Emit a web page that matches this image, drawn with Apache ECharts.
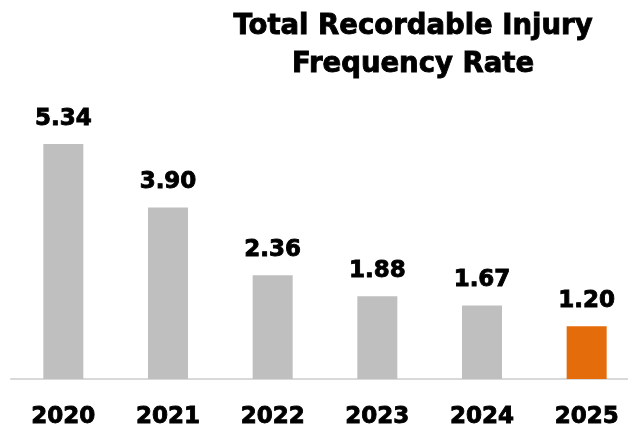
<!DOCTYPE html>
<html><head><meta charset="utf-8">
<script src="https://cdn.jsdelivr.net/npm/echarts@6/dist/echarts.min.js"></script>
<style>html,body{margin:0;padding:0;background:#fff}#c{width:628px;height:429px}</style>
</head><body><div id="c"></div>
<script>
const categories = ['2020','2021','2022','2023','2024','2025'];
const values = [5.34, 3.90, 2.36, 1.88, 1.67, 1.20];
const barColors = ['#BFBFBF','#BFBFBF','#BFBFBF','#BFBFBF','#BFBFBF','#E46C0A'];
const titleText = 'Total Recordable Injury\nFrequency Rate';
const FONT = 'DejaVu Sans';
const heavy = {fontFamily:FONT, fontWeight:'bold', color:'#000', textBorderColor:'#000', textBorderWidth:0.9};
const chart = echarts.init(document.getElementById('c'), null, {renderer:'canvas'});
chart.setOption({
  animation:false,
  title:{
    text:titleText, left:408, top:3, textAlign:'center',
    textStyle:Object.assign({fontSize:27.5, lineHeight:38}, heavy)
  },
  grid:{left:11, width:628, top:115, bottom:50, containLabel:false, outerBoundsMode:'none'},
  xAxis:{
    type:'category', data:categories,
    axisLine:{lineStyle:{color:'#D9D9D9', width:2}},
    axisTick:{show:false},
    axisLabel:Object.assign({fontSize:23, margin:27}, heavy)
  },
  yAxis:{type:'value', min:0, max:6, show:false, splitLine:{show:false}},
  series:[{
    type:'bar', barWidth:40,
    data: values.map((v,i)=>({value:v, itemStyle:{color:barColors[i]}})),
    label:Object.assign({show:true, position:'top', distance:14, formatter:p=>p.value.toFixed(2), fontSize:23}, heavy)
  }]
});
</script></body></html>
